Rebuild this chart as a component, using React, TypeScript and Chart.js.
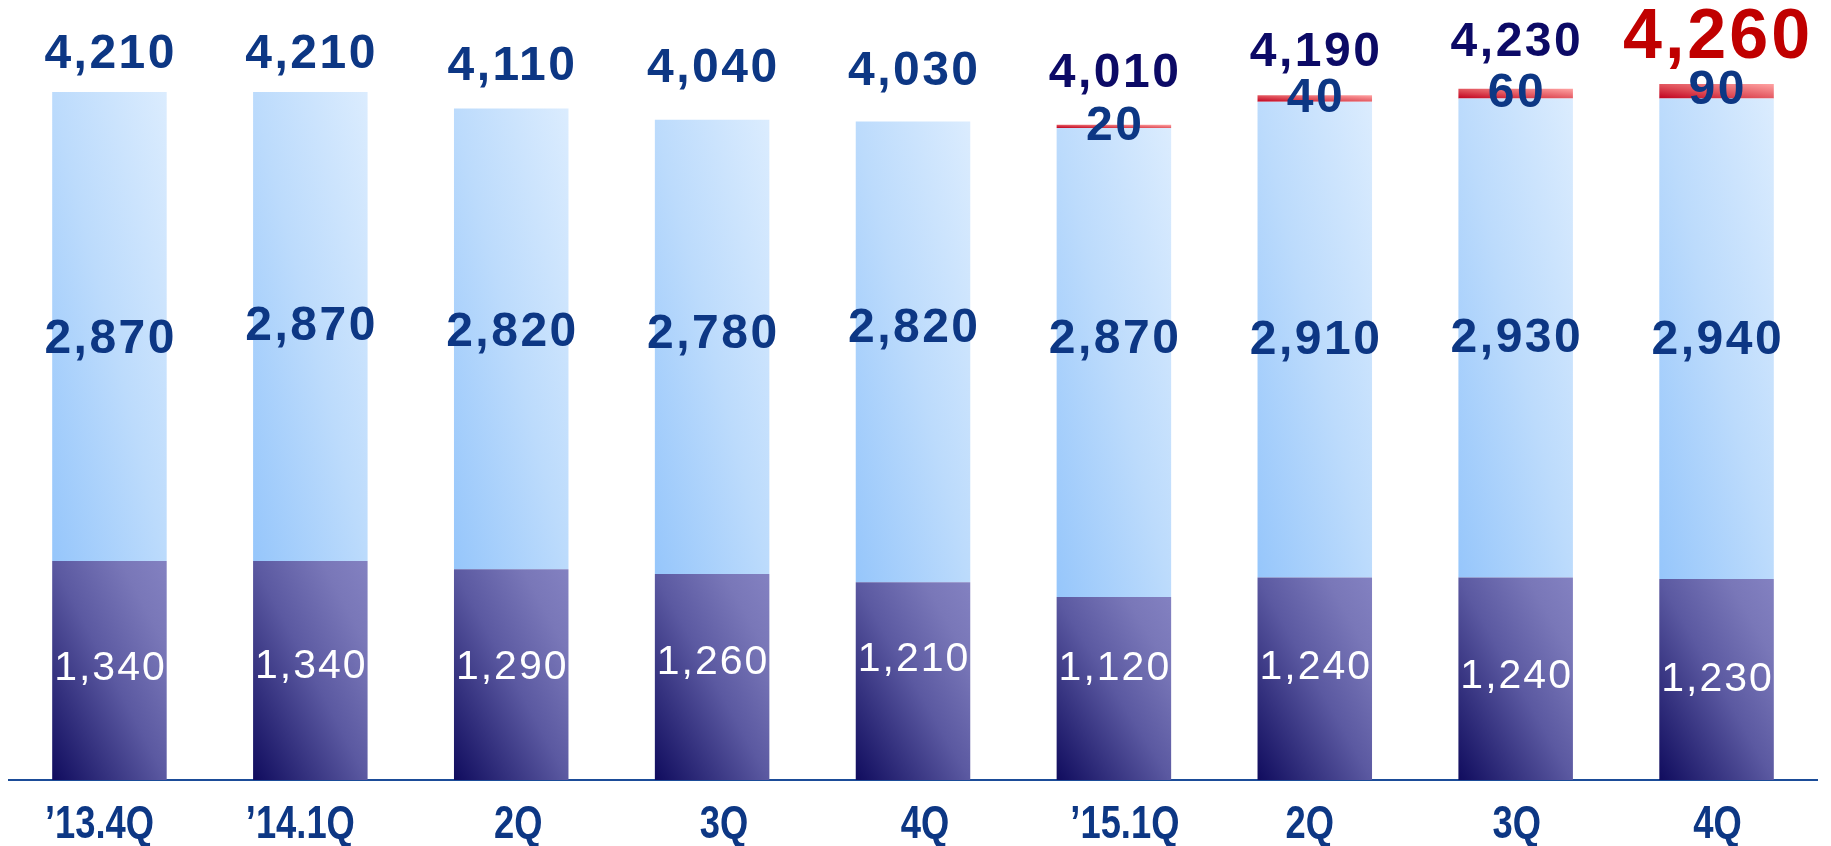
import { useEffect, useRef } from "react";
import { Chart, registerables } from "chart.js";

Chart.register(...registerables);

// ---- data ----
const categories = ["’13.4Q", "’14.1Q", "2Q", "3Q", "4Q", "’15.1Q", "2Q", "3Q", "4Q"];
const baseValues = [1340, 1340, 1290, 1260, 1210, 1120, 1240, 1240, 1230];
const midValues = [2870, 2870, 2820, 2780, 2820, 2870, 2910, 2930, 2940];
const newValues: (number | null)[] = [null, null, null, null, null, 20, 40, 60, 90];
const totalValues = [4210, 4210, 4110, 4040, 4030, 4010, 4190, 4230, 4260];

// ---- label styling (pixel nudges, colours) ----
const catLabelShiftX = [-10, -10, 7, 12, 12, 11, -5, 1, 1];
const baseLabelShift = [-2, -4, -7, -14, -21, -20, -11, -2, 0];
const midLabelShift = [13, 0, -6, -12, -23, -23, 1, 1, 2];
const totalLabelShift = [7, 7, 2, -7, -6, -7, 1, -2, -1];
const totalLabelColors = ["#0d3784", "#0d3784", "#0d3784", "#0d3784", "#0d3784", "#0c0a66", "#0c0a66", "#0c0a66", "#c00000"];
const highlightIndex = 8;

const BAR_PCT = 0.57;
const Y_MAX = 4700;
const SANS = '"Liberation Sans", Arial, sans-serif';

const fmt = (v: number) => v.toLocaleString("en-US");

function diagGradient(
  ctx: CanvasRenderingContext2D,
  x0: number,
  x1: number,
  yTop: number,
  yBottom: number,
  stops: [number, string][]
) {
  const w = Math.max(1, x1 - x0);
  const h = Math.max(1, yBottom - yTop);
  const L2 = w * w + h * h;
  const ex = x0 + (2 * w * h * h) / L2;
  const ey = yBottom - (2 * w * w * h) / L2;
  const g = ctx.createLinearGradient(x0, yBottom, ex, ey);
  stops.forEach(([o, c]) => g.addColorStop(o, c));
  return g;
}

const baseStops: [number, string][] = [
  [0, "#100c5e"],
  [0.5, "#5b59a1"],
  [0.8, "#7977b8"],
  [1, "#8381c1"],
];
const midStops: [number, string][] = [
  [0, "#96c6fb"],
  [0.5, "#bcdbfc"],
  [1, "#dbecfe"],
];
const newStops: [number, string][] = [
  [0, "#c0001e"],
  [0.45, "#e0505a"],
  [1, "#ffa3a3"],
];

function makeBg(datasetIdx: number, stops: [number, string][], fallback: string) {
  return (c: any) => {
    const chart = c.chart;
    const area = chart.chartArea;
    const xs = chart.scales?.x;
    const ys = chart.scales?.y;
    if (!area || !xs || !ys) return fallback;
    const i = c.dataIndex;
    const cx = xs.getPixelForValue(i);
    const bw = (xs.width / categories.length) * BAR_PCT;
    let start = 0;
    const all = [baseValues, midValues, newValues];
    for (let d = 0; d < datasetIdx; d++) start += (all[d][i] as number) || 0;
    const v = (all[datasetIdx][i] as number) || 0;
    const yB = ys.getPixelForValue(start);
    const yT = ys.getPixelForValue(start + v);
    return diagGradient(chart.ctx, cx - bw / 2, cx + bw / 2, yT, yB, stops);
  };
}

const labelPlugin = {
  id: "valueLabels",
  afterDatasetsDraw(chart: any) {
    const ctx: CanvasRenderingContext2D = chart.ctx;
    const mBase = chart.getDatasetMeta(0).data;
    const mMid = chart.getDatasetMeta(1).data;
    const mNew = chart.getDatasetMeta(2).data;
    const xs = chart.scales.x;
    const ys = chart.scales.y;
    ctx.save();
    ctx.textAlign = "center";
    ctx.textBaseline = "middle";
    const draw = (t: string, x: number, y: number, font: string, color: string, ls: number, sx = 1) => {
      ctx.save();
      ctx.font = font;
      ctx.fillStyle = color;
      (ctx as any).letterSpacing = ls + "px";
      ctx.translate(x + ls / 2, y);
      ctx.scale(sx, 1);
      ctx.fillText(t, 0, 0);
      ctx.restore();
    };
    for (let i = 0; i < categories.length; i++) {
      const b = mBase[i];
      const m = mMid[i];
      // category label (condensed)
      draw(categories[i], xs.getPixelForValue(i) + catLabelShiftX[i], 825, "bold 46px " + SANS, "#0d3784", 0, 0.79);
      // bottom segment
      draw(fmt(baseValues[i]), b.x, (b.y + b.base) / 2 + baseLabelShift[i], "41px " + SANS, "#ffffff", 2);
      // middle segment
      draw(fmt(midValues[i]), m.x, (m.y + m.base) / 2 + midLabelShift[i], "bold 48px " + SANS, "#0d3784", 2.5);
      // new (red) segment
      const nv = newValues[i];
      if (nv != null) {
        const n = mNew[i];
        draw(fmt(nv), n.x, (n.y + n.base) / 2, "bold 48px " + SANS, "#0d3784", 2.5);
      }
      // total
      const topY = ys.getPixelForValue(totalValues[i]);
      if (i === highlightIndex) {
        draw(fmt(totalValues[i]), b.x, topY - 44 + totalLabelShift[i], "bold 70px " + SANS, totalLabelColors[i], 3);
      } else {
        draw(fmt(totalValues[i]), b.x, topY - 44 + totalLabelShift[i], "bold 48px " + SANS, totalLabelColors[i], 2.5);
      }
    }
    ctx.restore();
  },
};

export default function App() {
  const ref = useRef<HTMLCanvasElement | null>(null);
  useEffect(() => {
    if (!ref.current) return;
    const chart = new Chart(ref.current, {
      type: "bar",
      data: {
        labels: categories,
        datasets: [
          { label: "base", data: baseValues, backgroundColor: makeBg(0, baseStops, "#5b59a1") as any },
          { label: "mid", data: midValues, backgroundColor: makeBg(1, midStops, "#bcdbfc") as any },
          { label: "new", data: newValues as any, backgroundColor: makeBg(2, newStops, "#e0505a") as any },
        ],
      },
      options: {
        animation: false,
        responsive: false,
        maintainAspectRatio: false,
        layout: { padding: { left: 9, right: 14, top: 12, bottom: 0 } },
        datasets: { bar: { barPercentage: BAR_PCT, categoryPercentage: 1, borderWidth: 0 } },
        plugins: { legend: { display: false }, tooltip: { enabled: false } },
        scales: {
          x: {
            stacked: true,
            grid: { display: false, drawTicks: false },
            border: { display: true, color: "#1b4c98", width: 2 },
            ticks: { display: false, autoSkip: false, maxRotation: 0 },
            afterFit: (s: any) => {
              s.height = 66;
            },
          },
          y: { stacked: true, display: false, min: 0, max: Y_MAX },
        },
      },
      plugins: [labelPlugin],
    });
    return () => chart.destroy();
  }, []);
  return (
    <div style={{ position: "fixed", left: 0, top: 0, width: 1831, height: 846, background: "#ffffff" }}>
      <canvas ref={ref} width={1831} height={846} style={{ display: "block" }} />
    </div>
  );
}
